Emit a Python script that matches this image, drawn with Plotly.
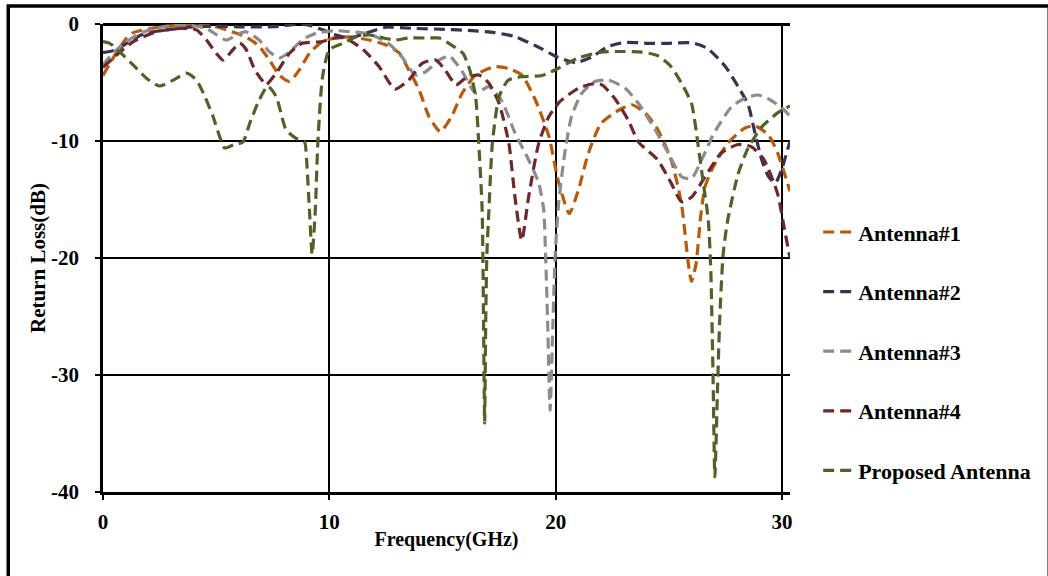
import plotly.graph_objects as go

names = ["Antenna#1", "Antenna#2", "Antenna#3", "Antenna#4", "Proposed Antenna"]
colors = ["#B8590C", "#3D3052", "#8C8C8C", "#6E2828", "#4F6228"]

f1 = [0, 0.3, 0.67, 1.04, 1.34, 2.2, 3.4, 4.85, 5.9, 6.4, 6.9, 7.36, 7.8, 8.24, 8.68, 9.12, 9.7, 10.3, 10.9, 11.76, 12.5, 13.1, 13.5, 13.96, 14.4, 14.9, 15.4, 15.87, 16.46, 17.3, 17.9, 18.5, 19.1, 19.7, 20.1, 20.6, 21.0, 21.45, 22.0, 22.8, 23.36, 23.96, 24.5, 25.1, 25.55, 25.86, 26.0, 26.2, 26.4, 26.6, 26.96, 27.6, 28.35, 28.8, 29.4, 29.8, 30.35]
a1 = [-4.4, -3.4, -2.2, -1.2, -0.74, -0.35, -0.1, -0.17, -0.8, -1.2, -1.9, -3.1, -4.4, -4.9, -3.9, -2.5, -1.5, -1.2, -1.1, -1.37, -1.8, -2.5, -3.9, -5.6, -7.9, -9.2, -7.9, -5.9, -4.36, -3.65, -3.8, -4.36, -6.5, -9.6, -13.3, -16.2, -14.2, -11.0, -8.5, -7.35, -6.9, -7.6, -9.0, -11.6, -15.3, -20.5, -22.0, -20.5, -16.5, -13.9, -12.2, -10.2, -8.9, -8.7, -9.5, -11.0, -14.3]

f2 = [0, 0.6, 1.04, 1.78, 2.8, 3.8, 4.85, 6.2, 7.6, 8.5, 9.1, 9.7, 10.3, 10.9, 11.6, 12.5, 13.66, 15.1, 16.3, 17.3, 18.2, 19.2, 20.1, 20.9, 21.6, 22.3, 23.07, 24.1, 25.0, 26.0, 26.7, 27.5, 28.06, 28.5, 28.8, 29.1, 29.4, 29.7, 29.97, 30.35]
a2 = [-2.45, -2.2, -1.65, -0.85, -0.5, -0.28, -0.17, -0.25, -0.23, -0.03, -0.1, -0.5, -0.94, -1.2, -0.8, -0.28, -0.37, -0.46, -0.57, -0.74, -1.08, -1.94, -2.85, -3.3, -2.8, -1.94, -1.57, -1.65, -1.65, -1.6, -2.08, -3.65, -5.36, -6.9, -9.3, -11.6, -13.05, -13.6, -12.5, -10.0]

f3 = [0, 0.3, 0.75, 1.63, 2.66, 3.8, 4.57, 5.0, 5.45, 5.9, 6.3, 6.9, 7.36, 7.8, 8.24, 8.8, 9.4, 10.3, 10.9, 11.76, 12.6, 13.2, 13.8, 14.26, 14.85, 15.3, 15.87, 16.46, 17.05, 17.6, 18.2, 18.8, 19.25, 19.47, 19.55, 19.65, 19.75, 19.87, 19.98, 20.13, 20.4, 20.7, 21.16, 21.75, 22.33, 23.07, 23.66, 24.4, 24.98, 25.56, 26.0, 26.45, 27.0, 27.77, 28.36, 28.94, 29.5, 30.1, 30.35]
a3 = [-3.5, -2.8, -1.94, -0.8, -0.23, -0.1, -0.37, -0.9, -1.37, -0.94, -0.66, -1.37, -2.4, -2.9, -2.4, -1.37, -0.8, -0.57, -0.66, -0.85, -1.65, -2.8, -4.36, -4.07, -3.08, -2.74, -4.07, -5.9, -5.36, -6.5, -9.3, -11.6, -13.6, -15.9, -19.6, -26.0, -33.0, -26.0, -19.6, -15.3, -11.05, -7.9, -5.9, -4.9, -4.8, -5.5, -6.8, -9.06, -11.05, -13.05, -13.2, -11.6, -9.3, -7.07, -6.35, -6.07, -6.5, -7.35, -7.9]

f4 = [0, 0.75, 1.34, 2.36, 3.4, 4.13, 4.57, 5.0, 5.3, 5.74, 6.04, 6.33, 6.7, 7.06, 7.2, 7.65, 8.24, 8.8, 9.7, 10.2, 10.7, 11.5, 12.2, 12.9, 13.5, 14.1, 14.7, 15.1, 15.6, 16.0, 16.6, 17.05, 17.5, 17.93, 18.2, 18.5, 18.8, 19.25, 19.7, 20.2, 21.0, 21.6, 22.04, 22.6, 23.2, 23.66, 24.5, 25.1, 25.56, 26.0, 26.6, 27.3, 28.06, 28.65, 29.2, 29.8, 30.1, 30.35]
a4 = [-3.7, -2.4, -1.5, -0.66, -0.37, -0.5, -1.37, -2.5, -3.08, -2.2, -1.65, -2.2, -3.9, -4.9, -5.2, -4.2, -2.5, -1.65, -1.5, -1.2, -1.2, -2.2, -3.65, -5.56, -4.8, -3.36, -3.08, -3.9, -5.2, -4.64, -4.36, -5.07, -6.8, -10.2, -14.8, -18.5, -14.8, -10.2, -7.9, -6.6, -5.5, -5.13, -5.2, -6.35, -8.2, -10.1, -11.6, -13.6, -15.2, -14.8, -13.05, -11.05, -10.3, -10.5, -11.6, -14.5, -17.5, -20.0]

f5 = [0, 0.3, 0.75, 1.33, 1.92, 2.5, 3.1, 3.69, 4.13, 4.5, 4.86, 5.15, 5.37, 5.8, 6.18, 6.48, 6.9, 7.28, 7.65, 7.94, 8.09, 8.53, 8.9, 8.99, 9.12, 9.24, 9.38, 9.49, 9.7, 10.0, 10.59, 11.2, 11.76, 12.4, 12.9, 13.5, 14.4, 14.85, 15.4, 15.9, 16.2, 16.46, 16.6, 16.75, 16.81, 16.86, 16.91, 16.96, 17.05, 17.2, 17.5, 17.9, 18.5, 19.4, 20.1, 21.0, 22.0, 23.0, 23.8, 24.5, 25.1, 25.56, 26.0, 26.3, 26.5, 26.74, 26.85, 26.95, 27.03, 27.15, 27.25, 27.4, 27.6, 28.06, 28.5, 29.1, 29.8, 30.35]
a5 = [-1.5, -1.65, -2.4, -3.5, -4.64, -5.3, -4.8, -4.2, -4.8, -6.2, -7.9, -9.6, -10.6, -10.3, -10.1, -8.5, -6.5, -5.3, -6.2, -8.2, -9.06, -9.77, -10.06, -11.5, -15.9, -19.7, -15.9, -10.2, -4.5, -2.2, -1.65, -1.08, -0.94, -1.2, -1.37, -1.2, -1.2, -1.2, -1.8, -2.5, -3.9, -6.2, -10.2, -15.9, -25.0, -34.1, -25.0, -19.6, -15.9, -10.2, -6.2, -4.8, -4.5, -4.4, -3.8, -2.9, -2.4, -2.35, -2.4, -2.7, -3.65, -5.07, -6.8, -10.5, -13.3, -16.75, -21.0, -30.0, -38.7, -31.0, -25.0, -19.6, -16.75, -12.8, -10.6, -8.8, -7.6, -7.0]

xs = [f1, f2, f3, f4, f5]
ys = [a1, a2, a3, a4, a5]

y_ticks = [0, -10, -20, -30, -40]
y_ticktext = ["0", "-10", "-20", "-30", "-40"]
x_ticks = [0, 10, 20, 30]

FONT = "Liberation Serif"

fig = go.Figure()
for n, c, x, y in zip(names, colors, xs, ys):
    fig.add_trace(go.Scatter(
        x=x, y=y, name=n, mode="lines", legendgroup=n,
        line=dict(color=c, width=3.2, dash="11px,6px", shape="spline", smoothing=0.6),
    ))

fig.update_layout(
    width=1048, height=576,
    margin=dict(l=103, r=256, t=24, b=84),
    paper_bgcolor="white", plot_bgcolor="white",
    font=dict(family=FONT, color="black"),
    showlegend=True,
    legend=dict(
        x=1.041, y=0.6, xanchor="left", yanchor="top",
        font=dict(family=FONT, size=22, color="black", weight="bold"),
        tracegroupgap=28, itemwidth=30, bgcolor="rgba(0,0,0,0)",
    ),
    xaxis=dict(
        range=[0, 30.35], tickvals=x_ticks, ticktext=[str(v) for v in x_ticks],
        showgrid=True, gridcolor="black", gridwidth=1.5,
        showline=True, linecolor="black", linewidth=2.5,
        ticks="outside", ticklen=5, tickwidth=1.5, tickcolor="black",
        zeroline=False, ticklabelstandoff=4,
        tickfont=dict(family=FONT, size=21, color="black", weight="bold"),
        title=dict(text="Frequency(GHz)", font=dict(family=FONT, size=20, color="black", weight="bold"), standoff=0),
    ),
    yaxis=dict(
        range=[-40, 0], tickvals=y_ticks, ticktext=y_ticktext,
        showgrid=True, gridcolor="black", gridwidth=2,
        showline=True, linecolor="black", linewidth=2.5,
        ticks="outside", ticklen=5, tickwidth=1.5, tickcolor="black",
        zeroline=True, zerolinecolor="black", zerolinewidth=2.5,
        ticklabelstandoff=12,
        tickfont=dict(family=FONT, size=21, color="black", weight="bold"),
        title=dict(text="Return Loss(dB)", font=dict(family=FONT, size=21, color="black", weight="bold"), standoff=0),
    ),
    shapes=[dict(type="rect", xref="paper", yref="paper",
                 x0=(8 - 103) / 689, x1=(1052 - 103) / 689,
                 y0=(492 - 582) / 468, y1=(492 - 6) / 468,
                 line=dict(color="black", width=3.5), layer="below")],
)

fig.write_html("out.html")
